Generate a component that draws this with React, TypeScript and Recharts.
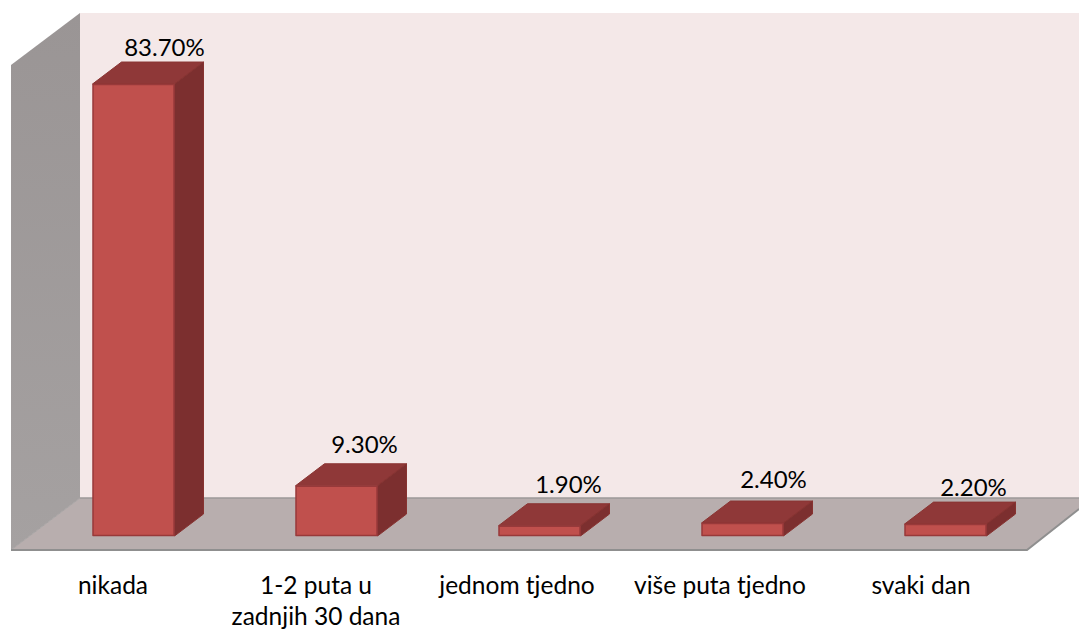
import React from "react";
import { BarChart, Bar, XAxis, YAxis, LabelList, Customized } from "recharts";

const categories = ["nikada", "1-2 puta u|zadnjih 30 dana", "jednom tjedno", "više puta tjedno", "svaki dan"];
const shares = [83.7, 9.3, 1.9, 2.4, 2.2];
const labelRise = [28, 33, 33, 35, 28];
const labelShift = [31, 28, 29, 31, 28];
const tickShift = [20, 20, 22, 22, 24];

const rows = categories.map((name, i) => ({ name, share: shares[i], rise: labelRise[i], shift: labelShift[i] }));

const FONT = "Lato, 'Noto Sans', sans-serif";
const DX = 29;
const DY = 22;

function Walls() {
  return (
    <g>
      <defs>
        <linearGradient id="sideWall" x1="0" y1="0" x2="0" y2="1">
          <stop offset="0" stopColor="#9a9595" />
          <stop offset="1" stopColor="#a5a1a1" />
        </linearGradient>
      </defs>
      <rect x={80} y={13} width={999} height={485} fill="#f4e8e8" />
      <polygon points="11,65 80,13 80,498 11,550" fill="url(#sideWall)" />
      <polygon points="11,550 80,498 1079,498 1079,509 1027,550" fill="#b8aeae" />
      <polyline points="80,498 1079,498" fill="none" stroke="#9c9898" strokeWidth={1.5} />
      <polyline points="11,550 80,498" fill="none" stroke="#a6a3a3" strokeWidth={1} />
      <polyline points="11,550 1027,550 1079,509" fill="none" stroke="#8f8f8f" strokeWidth={2} />
    </g>
  );
}

function Box(props: any) {
  const { x, y, width, height } = props;
  const r = x + width;
  const b = y + height;
  return (
    <g strokeLinejoin="round">
      <polygon
        points={`${x},${y} ${x + DX},${y - DY} ${r + DX},${y - DY} ${r},${y}`}
        fill="#8f3838"
        stroke="#8a3533"
        strokeWidth={1}
      />
      <polygon
        points={`${r},${y} ${r + DX},${y - DY} ${r + DX},${b - DY} ${r},${b}`}
        fill="#7c2f2f"
        stroke="#873331"
        strokeWidth={1}
      />
      <rect
        x={x + 0.5}
        y={y + 0.5}
        width={width - 1}
        height={height - 1}
        fill="#c0504d"
        stroke="#98393a"
        strokeWidth={1.5}
      />
    </g>
  );
}

function ValueLabel(props: any) {
  const { x, y, width, index, value } = props;
  const row = rows[index];
  return (
    <text
      x={x + width / 2 + row.shift}
      y={y - row.rise}
      textAnchor="middle"
      fontFamily={FONT}
      fontSize={24}
      fill="#000"
    >
      {Number(value).toFixed(2)}%
    </text>
  );
}

function Tick(props: any) {
  const { x, payload, index } = props;
  const lines = String(payload.value).split("|");
  const cx = x - tickShift[index];
  return (
    <text x={cx} y={594} textAnchor="middle" fontFamily={FONT} fontSize={24.5} fill="#000">
      {lines.map((line: string, i: number) => (
        <tspan key={line} x={cx} y={594 + i * 31}>
          {line}
        </tspan>
      ))}
    </text>
  );
}

export default function App() {
  return (
    <div style={{ position: "absolute", left: 0, top: 0, width: 1079, height: 629, background: "#fff" }}>
      <BarChart
        width={1079}
        height={629}
        data={rows}
        margin={{ top: 50, right: 32.5, bottom: 0, left: 31.5 }}
        barSize={82}
      >
        <Customized component={Walls} />
        <XAxis dataKey="name" axisLine={false} tickLine={false} height={93} interval={0} tick={<Tick />} />
        <YAxis hide domain={[0, 90]} />
        <Bar dataKey="share" isAnimationActive={false} shape={<Box />}>
          <LabelList dataKey="share" content={<ValueLabel />} />
        </Bar>
      </BarChart>
    </div>
  );
}
